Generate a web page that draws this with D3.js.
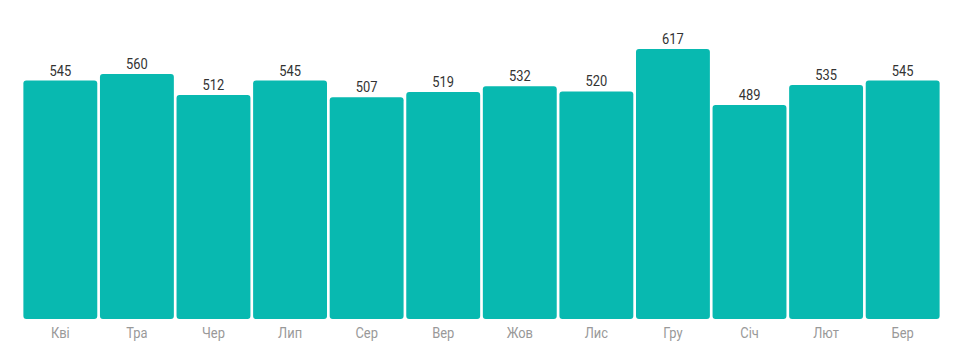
<!DOCTYPE html>
<html><head><meta charset="utf-8">
<script src="https://cdn.jsdelivr.net/npm/d3@7/dist/d3.min.js"></script>
<style>body{margin:0;background:#fff}svg{display:block}</style>
</head><body>
<svg id="c" width="967" height="359"></svg>
<script>
const categories = ["Кві","Тра","Чер","Лип","Сер","Вер","Жов","Лис","Гру","Січ","Лют","Бер"];
const values = [545,560,512,545,507,519,532,520,617,489,535,545];

const svg = d3.select("#c");
const x = d3.scaleBand().domain(categories).range([23, 940]).paddingInner(0.035).paddingOuter(0.005);
const y = d3.scaleLinear().domain([0, 729]).range([319, 0]);
const font = "Roboto,sans-serif";
const sx = 0.86;

svg.append("g").selectAll("rect").data(values).join("rect")
  .attr("x", (d,i) => x(categories[i]))
  .attr("y", d => y(d))
  .attr("width", x.bandwidth())
  .attr("height", d => y(0) - y(d))
  .attr("rx", 3).attr("ry", 3)
  .attr("fill", "#08b9b0");

svg.append("g").selectAll("text").data(values).join("text")
  .attr("transform", (d,i) => `translate(${x(categories[i]) + x.bandwidth()/2},${y(d) - 5}) scale(${sx},1)`)
  .attr("text-anchor", "middle")
  .attr("font-family", font).attr("font-size", 15).attr("font-weight", 400)
  .attr("fill", "#333")
  .text(d => d);

const ax = svg.append("g").attr("transform", "translate(0,319)")
  .call(d3.axisBottom(x).tickSize(0).tickPadding(8));
ax.select(".domain").remove();
ax.selectAll("text").attr("font-family", font).attr("font-size", 15).attr("font-weight", 400)
  .attr("fill", "#999")
  .attr("transform", `scale(${sx},1)`)
  .attr("x", 0);
</script>
</body></html>
